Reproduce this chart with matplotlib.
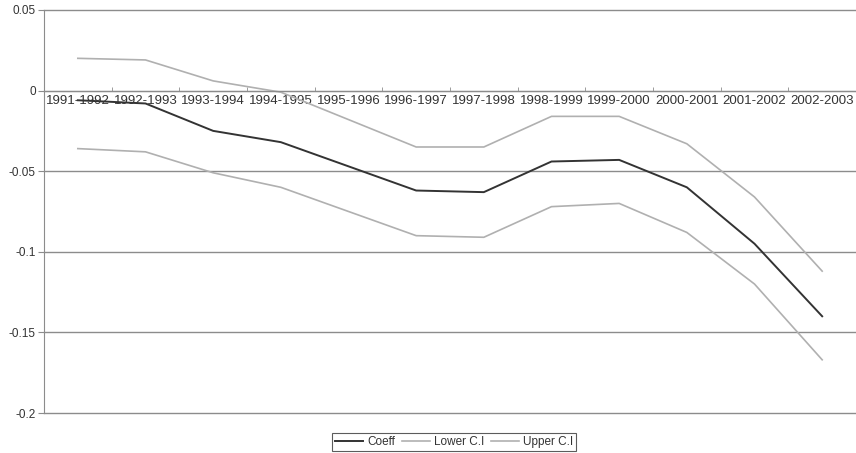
import numpy as np
from matplotlib import pyplot as plt

# periods on the x axis
periods = [
    "1991-1992", "1992-1993", "1993-1994", "1994-1995", "1995-1996", "1996-1997",
    "1997-1998", "1998-1999", "1999-2000", "2000-2001", "2001-2002", "2002-2003",
]

# series values
coeff = [-0.006, -0.008, -0.025, -0.032, -0.047, -0.062,
         -0.063, -0.044, -0.043, -0.060, -0.095, -0.140]
lower_ci = [-0.036, -0.038, -0.051, -0.060, -0.075, -0.090,
            -0.091, -0.072, -0.070, -0.088, -0.120, -0.167]
upper_ci = [0.020, 0.019, 0.006, -0.001, -0.018, -0.035,
            -0.035, -0.016, -0.016, -0.033, -0.066, -0.112]

yticks = [0.05, 0, -0.05, -0.1, -0.15, -0.2]
ytick_labels = ["0.05", "0", "-0.05", "-0.1", "-0.15", "-0.2"]

plt.rcParams["font.family"] = ["Liberation Sans", "DejaVu Sans"]

fig = plt.figure(figsize=(8.56, 4.53), dpi=100)
ax = fig.add_axes([0.0514, 0.0883, 0.9486, 0.8897])

x = np.arange(len(periods))
ax.plot(x, coeff, color="#333333", lw=1.4, label="Coeff")
ax.plot(x, lower_ci, color="#b0b0b0", lw=1.2, label="Lower C.I")
ax.plot(x, upper_ci, color="#b0b0b0", lw=1.2, label="Upper C.I")

ax.set_xlim(-0.5, len(periods) - 0.5)
ax.set_ylim(-0.2, 0.05)

# horizontal gridlines
for y in yticks:
    ax.axhline(y, color="#8c8c8c", lw=1.0, zorder=0, clip_on=False)

ax.set_yticks(yticks)
ax.set_yticklabels(ytick_labels, fontsize=8.5, color="#333333")
ax.tick_params(axis="y", length=4, color="#8c8c8c", pad=2)

# category axis crosses at zero, labels just under it
ax.spines["bottom"].set_position(("data", 0))
ax.spines["bottom"].set_color("#8c8c8c")
ax.spines["left"].set_color("#8c8c8c")
ax.spines["top"].set_visible(False)
ax.spines["right"].set_visible(False)
ax.set_xticks(x)
ax.set_xticklabels(periods, fontsize=9.5, color="#333333")
ax.tick_params(axis="x", which="major", length=0, pad=3)
ax.set_xticks(np.arange(len(periods) + 1) - 0.5, minor=True)
ax.tick_params(axis="x", which="minor", length=3, color="#8c8c8c", direction="in")

leg = ax.legend(loc="upper center", bbox_to_anchor=(0.505, -0.035),
                ncol=3, fontsize=8.5, frameon=True, fancybox=False,
                handlelength=2.4, handletextpad=0.3, columnspacing=0.6,
                borderpad=0.25, labelcolor="#333333")
leg.get_frame().set_edgecolor("#333333")
leg.get_frame().set_linewidth(0.8)

plt.savefig("out.png", dpi=100)
